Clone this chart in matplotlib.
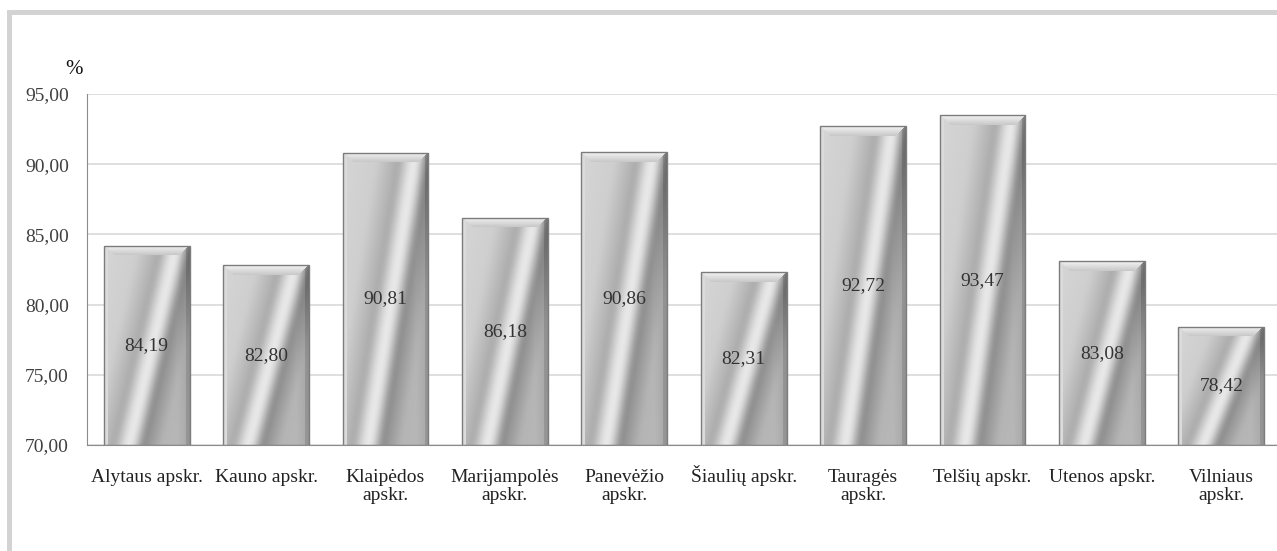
"""
Apskričių rodikliai, % (stulpelinė diagrama su metaliniais stulpeliais)
"""

import numpy as np
import matplotlib
matplotlib.use("Agg")
import matplotlib.pyplot as plt
from matplotlib.patches import Rectangle

categories = ["Alytaus apskr.", "Kauno apskr.", "Klaipėdos\napskr.", "Marijampolės\napskr.",
              "Panevėžio\napskr.", "Šiaulių apskr.", "Tauragės\napskr.", "Telšių apskr.",
              "Utenos apskr.", "Vilniaus\napskr."]
values = [84.19, 82.80, 90.81, 86.18, 90.86, 82.31, 92.72, 93.47, 83.08, 78.42]
value_labels = ["84,19", "82,80", "90,81", "86,18", "90,86", "82,31", "92,72", "93,47", "83,08", "78,42"]
yticks = [70, 75, 80, 85, 90, 95]
ytick_labels = ["70,00", "75,00", "80,00", "85,00", "90,00", "95,00"]

plt.rcParams['font.family'] = ['Liberation Serif', 'DejaVu Serif']

W, H = 1277, 551


def metal_image(w_px, h_px):
    # spalva pagal normalizuotas koordinates, istrižas blizgesys
    xs = (np.arange(w_px) + 0.5) / w_px
    ys = (np.arange(h_px) + 0.5) / h_px  # 0 virsuje
    xf, yf = np.meshgrid(xs, ys)
    up = 1 - yf
    d = xf - (0.30 + 0.55 * up)
    val = np.interp(d, [-1.0, -0.45, -0.18, -0.04, 0.03, 0.16, 0.38, 1.0],
                    [0.85, 0.81, 0.67, 0.91, 0.91, 0.55, 0.71, 0.74])
    # sušvelninti
    k = np.ones(7) / 7
    val = np.apply_along_axis(lambda r: np.convolve(np.pad(r, 3, mode="edge"), k, "valid"), 1, val)
    val = val - 0.07 * np.clip((xf - 0.85) / 0.15, 0, 1)
    # kraštu nuosklemba
    px = (np.arange(w_px)[None, :] + 0.5) * np.ones_like(val)
    py = (np.arange(h_px)[:, None] + 0.5) * np.ones_like(val)
    dl = px
    dr = w_px - px
    dt = py
    top = (dt < 10) & (dt < dl) & (dt < dr)
    val = np.where(top, 0.96 - 0.018 * dt, val)
    left = (dl < 4) & ~top
    val = np.where(left, 0.86, val)
    right = (dr < 4) & ~top
    val = np.where(right, val - 0.08, val)
    val = np.clip(val, 0, 1)
    return np.dstack([val, val, val])


fig = plt.figure(figsize=(W / 100, H / 100), dpi=100)
ax = fig.add_axes([87 / W, (H - 445) / H, (1281 - 87) / W, 351 / H])

x = np.arange(len(values))
width = 0.72
ax.set_xlim(-0.5, len(values) - 0.5)
ax.set_ylim(70, 95)

px_per_x = 1194 / len(values)
px_per_y = 351 / 25

for i, v in enumerate(values):
    x0 = i - width / 2
    rect = Rectangle((x0, 70), width, v - 70, facecolor="none", edgecolor="#7c7c7c",
                     linewidth=1.0, zorder=3)
    ax.add_patch(rect)
    img = metal_image(int(round(width * px_per_x)), int(round((v - 70) * px_per_y)))
    im = ax.imshow(img, extent=(x0, x0 + width, 70, v), aspect="auto", zorder=2,
                   interpolation="bilinear")
    im.set_clip_path(rect)
    ax.text(i, (v + 70) / 2, value_labels[i], ha="center", va="center", fontsize=14,
            color="#333333", zorder=4)

ax.set_yticks(yticks)
ax.set_yticklabels(ytick_labels)
ax.set_xticks(x)
ax.set_xticklabels([])
ax.tick_params(axis="y", length=0, pad=13, labelsize=14, labelcolor="#404040")
ax.tick_params(axis="x", length=0)

# kategoriju pavadinimai: pirmos eilutes baseline vienodame aukstyje
for i, lab in enumerate(categories):
    n = lab.count("\n")
    base_px = 482 + 18 * n
    ax.text(i, (445 - base_px) / 351, lab, transform=ax.get_xaxis_transform(),
            ha="center", va="baseline", multialignment="center", linespacing=1.1,
            fontsize=14, color="#222222")

ax.yaxis.grid(True, color="#d9d9d9", linewidth=1.2)
ax.set_axisbelow(True)
for s in ["top", "right"]:
    ax.spines[s].set_visible(False)
ax.spines["left"].set_color("#8c8c8c")
ax.spines["bottom"].set_color("#8c8c8c")

fig.text(74 / W, (H - 70) / H, "%", ha="center", va="center", fontsize=15, color="#111111")

# pilkas rėmelis
fig.add_artist(Rectangle((7 / W, (H - 15) / H), (W - 7) / W, 5 / H, transform=fig.transFigure,
                         facecolor="#d3d3d3", edgecolor="none"))
fig.add_artist(Rectangle((7 / W, 0), 5 / W, (H - 10) / H, transform=fig.transFigure,
                         facecolor="#d3d3d3", edgecolor="none"))

plt.savefig("out.png", dpi=100)
